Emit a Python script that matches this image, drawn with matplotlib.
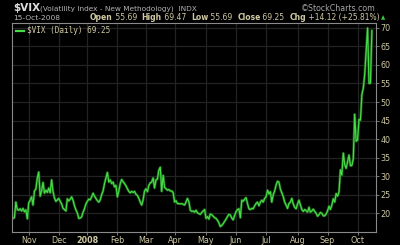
import matplotlib
matplotlib.use("Agg")
import matplotlib.pyplot as plt

# VIX daily closes, 17-Oct-2007 .. 15-Oct-2008 (one value per trading day)
vix = [
    18.6, 18.8, 23.0, 21.0, 20.8, 21.2, 20.6, 21.3, 20.4, 20.9, 18.5,
    22.8, 23.5, 24.4, 22.2, 26.0, 26.5, 29.5, 31.1, 24.6, 26.0, 28.3, 25.4, 26.2, 25.6, 26.8, 25.5, 29.0, 25.8, 24.1, 23.2, 23.6,
    24.0, 23.2, 22.5, 21.3, 21.0, 20.6, 23.9, 23.3, 23.8, 24.4, 23.5, 22.0, 20.9, 20.1, 18.6, 18.7, 19.0, 20.3, 21.2, 22.5,
    23.2, 23.8, 23.6, 24.4, 25.4, 24.6, 24.0, 23.4, 23.0, 23.6, 25.0, 26.0, 28.0, 29.5, 31.0, 28.4, 29.0, 28.0, 28.4, 27.1, 27.5,
    24.4, 26.0, 28.0, 29.1, 28.5, 28.0, 27.4, 26.6, 25.9, 25.5, 25.9, 25.6, 25.9, 25.1, 24.8, 24.0, 23.0, 22.2, 23.6, 26.0,
    26.6, 25.8, 27.5, 28.2, 28.4, 29.5, 26.8, 29.0, 29.2, 31.6, 32.4, 25.9, 30.2, 27.0, 26.6, 26.2, 26.4, 26.0, 26.0, 25.6,
    23.0, 23.4, 22.6, 22.6, 22.5, 22.6, 22.4, 22.2, 23.0, 24.0, 23.1, 20.8, 20.5, 20.6, 20.3, 20.8, 20.1, 19.9, 19.7, 20.2, 20.6, 21.0,
    18.6, 19.1, 18.4, 19.8, 19.6, 19.2, 18.8, 18.6, 18.1, 17.4, 16.4, 16.7, 17.2, 17.8, 18.4, 19.1, 19.7, 19.5, 18.7, 18.2, 19.4,
    20.4, 21.0, 21.2, 18.8, 23.5, 23.2, 23.8, 24.2, 22.6, 21.2, 21.0, 21.3, 21.2, 22.0, 22.6, 23.0, 22.0, 23.0, 23.5, 23.0, 24.0,
    24.4, 26.2, 25.2, 25.8, 23.0, 25.0, 26.0, 27.6, 28.6, 28.4, 26.5, 25.5, 24.5, 23.0, 22.2, 21.3, 22.6, 23.0, 24.0, 22.5, 21.6, 21.2,
    22.5, 23.5, 22.2, 21.0, 20.5, 21.0, 20.7, 20.3, 21.6, 20.3, 20.6, 21.1, 20.5, 20.0, 19.2, 19.6, 20.2, 20.0, 19.3, 19.3, 19.8,
    20.6, 21.9, 21.0, 22.2, 23.9, 23.0, 25.3, 24.6, 25.7, 31.7, 30.3, 36.2, 33.1, 32.1, 33.9, 35.7, 32.8, 32.9, 34.7, 46.7, 39.4,
    39.8, 45.3, 45.1, 52.0, 53.7, 57.5, 63.9, 69.95, 55.0, 55.1, 69.25,
]
month_idx = [11, 32, 52, 73, 93, 113, 135, 156, 177, 199, 220, 241]
month_labels = ["Nov", "Dec", "2008", "Feb", "Mar", "Apr", "May", "Jun", "Jul", "Aug", "Sep", "Oct"]
y_ticks = [20, 25, 30, 35, 40, 45, 50, 55, 60, 65, 70]

tan = "#cfc9a3"
grid_c = "#232323"
edge_c = "#8a8a8a"

fig = plt.figure(figsize=(4, 2.45), dpi=100, facecolor="black")
ax = fig.add_axes([0.03, 0.054, 0.909, 0.852], facecolor="black")

x = list(range(len(vix)))
ax.plot(x, vix, color="#1a5e1a", lw=1.9, solid_joinstyle="round")
ax.plot(x, vix, color="#48dc48", lw=0.85, solid_joinstyle="round")

ax.set_xlim(-0.7, 253.6)
ax.set_ylim(15, 71.3)

ax.set_xticks(month_idx)
ax.set_xticklabels(month_labels)
for lab in ax.get_xticklabels():
    if lab.get_text() == "2008":
        lab.set_fontweight("bold")
ax.set_yticks(y_ticks)
ax.yaxis.tick_right()
ax.tick_params(axis="both", colors=edge_c, labelcolor=tan, labelsize=5.8, length=2, width=0.6, pad=1.5)
ax.tick_params(axis="x", pad=1)
ax.grid(True, color=grid_c, lw=0.9)
ax.set_axisbelow(True)

for side in ["left", "top", "bottom"]:
    ax.spines[side].set_color(edge_c)
    ax.spines[side].set_linewidth(0.8)
ax.spines["right"].set_color(edge_c)
ax.spines["right"].set_linewidth(0.8)
ax.spines["right"].set_linestyle((0, (2, 1)))

# legend inside the chart
ax.plot([0.012, 0.032], [0.963, 0.963], transform=ax.transAxes, color="#48dc48", lw=1.6)
ax.text(0.04, 0.963, "$VIX (Daily) 69.25", transform=ax.transAxes, color=tan,
        fontsize=5.5, family="DejaVu Sans Mono", va="center", ha="left")

# header
fig.text(0.033, 0.957, "$VIX", color="#dedede", fontsize=7.5, fontweight="bold", va="baseline")
fig.text(0.1, 0.957, "(Volatility Index - New Methodology)  INDX", color="#b4b4b4",
         fontsize=5.3, va="baseline")
fig.text(0.94, 0.957, "\u00a9StockCharts.com", color="#a8a8a8", fontsize=5.7, va="baseline", ha="right")
fig.text(0.033, 0.92, "15-Oct-2008", color="#b8b8b8", fontsize=5.4, va="baseline")

parts = [("Open", True), (" 55.69  ", False), ("High", True), (" 69.47  ", False),
         ("Low", True), (" 55.69  ", False), ("Close", True), (" 69.25  ", False),
         ("Chg", True), (" +14.12 (+25.81%)", False)]
fig.canvas.draw()
rend = fig.canvas.get_renderer()
xpos = 90 / 400
for txt, bold in parts:
    t = fig.text(xpos, 0.92, txt, color=tan, fontsize=5.5, va="baseline",
                 fontweight="bold" if bold else "normal")
    bb = t.get_window_extent(renderer=rend)
    xpos += bb.width / fig.bbox.width
fig.text(0.952, 0.92, "\u25b2", color="#3cc83c", fontsize=4, va="baseline")

fig.savefig("out.png", dpi=100, facecolor="black")
